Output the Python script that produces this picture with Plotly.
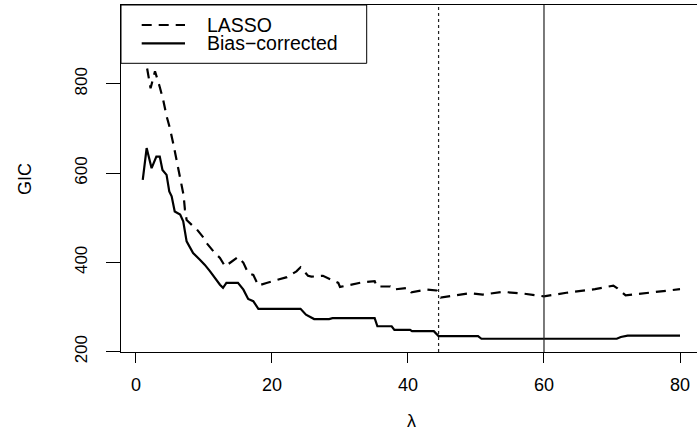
import plotly.graph_objects as go

# ---- data ----
lam_lasso = [1.0, 1.6, 2.15, 2.8, 3.5, 4.0, 4.5, 5.0, 5.5, 6.0, 6.5, 7.0, 7.2, 7.45,
             8.2, 8.9, 10.0, 10.4, 11.6, 12.35, 13.1, 15.0, 15.8, 16.5, 17.25, 18.0,
             19.2, 21.2, 22.2, 23.6, 24.2, 25.3, 25.8, 27.5, 28.3, 29.75, 30.0, 32.0,
             33.2, 35.1, 35.4, 37.4, 37.8, 40.0, 40.5, 42.75, 44.2, 44.8, 46.2, 49.1,
             51.0, 54.0, 57.0, 60.0, 63.3, 67.5, 70.2, 70.8, 72.0, 76.0, 80.0]
gic_lasso = [948, 838, 790, 828, 793, 764, 728, 700, 665, 626, 585, 551, 518, 495,
             484, 475, 454, 443, 421, 410, 391, 412, 399, 376, 372, 348,
             354, 362, 367, 380, 389, 370, 368, 370, 364, 354, 345, 352,
             355, 358, 346, 346, 339, 343, 333, 339, 337, 321, 324, 331,
             328, 334, 330, 324, 332, 340, 348, 342, 326, 333, 340]

lam_bc = [1.0, 1.57, 2.3, 3.0, 3.5, 3.9, 4.5, 4.9, 5.25, 5.7, 6.5, 6.95, 7.45, 7.9,
          8.4, 9.4, 10.1, 10.9, 11.6, 12.35, 12.8, 13.3, 15.0, 15.8, 16.5, 17.25,
          18.0, 24.2, 25.0, 25.5, 26.2, 28.4, 28.9, 35.1, 35.5, 37.6, 38.0, 40.3,
          40.6, 43.8, 44.5, 50.3, 50.8, 70.7, 71.3, 72.3, 80.0]
gic_bc = [585, 656, 611, 637, 637, 607, 596, 559, 548, 514, 507, 492, 447, 436,
          421, 406, 395, 380, 365, 350, 343, 354, 354, 339, 318, 313,
          296, 296, 283, 279, 273, 273, 275, 275, 257, 257, 249, 249,
          246, 246, 235, 235, 229, 229, 233, 236, 236]

vlines = [44.5, 60]
vline_dash = ["3px,3px", "solid"]
legend_labels = ["LASSO", "Bias\u2212corrected"]
legend_dash = ["10px,7px", "solid"]

x_ticks = [0, 20, 40, 60, 80]
y_ticks = [200, 400, 600, 800]

FONT = "Liberation Sans, Arial, Helvetica, sans-serif"
W, H = 697, 434
ML, MR, MT, MB = 121, 0, 5, 82
PW, PH = W - ML - MR, H - MT - MB

fig = go.Figure()
fig.add_trace(go.Scatter(x=lam_lasso, y=gic_lasso, mode="lines", name=legend_labels[0],
                         line=dict(color="black", width=2.2, dash=legend_dash[0]),
                         showlegend=False, hoverinfo="skip"))
fig.add_trace(go.Scatter(x=lam_bc, y=gic_bc, mode="lines", name=legend_labels[1],
                         line=dict(color="black", width=2.2, dash=legend_dash[1]),
                         showlegend=False, hoverinfo="skip"))

for v, d in zip(vlines, vline_dash):
    fig.add_vline(x=v, line=dict(color="#222222", width=1.2, dash=d))

# legend box (drawn in paper coordinates, above the data)
def px_x(p):
    return (p - ML) / PW

def px_y(p):
    return (H - MB - p) / PH

fig.add_shape(type="rect", xref="paper", yref="paper",
              x0=0, x1=px_x(366.7), y0=px_y(63.3), y1=1,
              fillcolor="white", line=dict(color="black", width=1), layer="above")
for i, (lab, d) in enumerate(zip(legend_labels, legend_dash)):
    yy = px_y(25 + 18.3 * i)
    fig.add_shape(type="line", xref="paper", yref="paper",
                  x0=px_x(141.7), x1=px_x(185), y0=yy, y1=yy,
                  line=dict(color="black", width=2.2, dash=d), layer="above")
    fig.add_annotation(xref="paper", yref="paper", x=px_x(205), y=yy,
                       text=lab, showarrow=False, xanchor="left", yanchor="middle",
                       font=dict(family=FONT, size=19.5, color="black"))

# axis titles
fig.add_annotation(xref="paper", yref="paper", x=px_x(411), y=px_y(421),
                   text="\u03bb", showarrow=False, xanchor="center", yanchor="middle",
                   font=dict(family=FONT, size=18, color="black"))
fig.add_annotation(xref="paper", yref="paper", x=px_x(25), y=px_y(179),
                   text="GIC", showarrow=False, textangle=-90,
                   xanchor="center", yanchor="middle",
                   font=dict(family=FONT, size=18, color="black"))

fig.update_xaxes(range=[-2.2, 82.5], tickvals=x_ticks, ticktext=[str(t) for t in x_ticks],
                 ticks="outside", ticklen=10, tickwidth=1, tickcolor="black",
                 showline=True, linecolor="black", linewidth=1, mirror=True,
                 showgrid=False, zeroline=False, automargin=False,
                 ticklabelstandoff=6,
                 tickfont=dict(family=FONT, size=18, color="black"))
fig.update_yaxes(range=[199.3, 976.5], tickvals=y_ticks, ticktext=[str(t) for t in y_ticks],
                 ticks="outside", ticklen=14, tickwidth=1, tickcolor="black",
                 showline=True, linecolor="black", linewidth=1, mirror=False,
                 showgrid=False, zeroline=False, tickangle=-90, automargin=False,
                 ticklabelstandoff=12,
                 tickfont=dict(family=FONT, size=17, color="black"))

fig.update_layout(width=W, height=H, margin=dict(l=ML, r=MR, t=MT, b=MB, autoexpand=False),
                  paper_bgcolor="white", plot_bgcolor="white", showlegend=False,
                  font=dict(family=FONT, color="black"))

fig.write_html("out.html", config={"displayModeBar": False, "staticPlot": True},
               post_script="document.body.style.margin='0';document.body.style.overflow='hidden';")
